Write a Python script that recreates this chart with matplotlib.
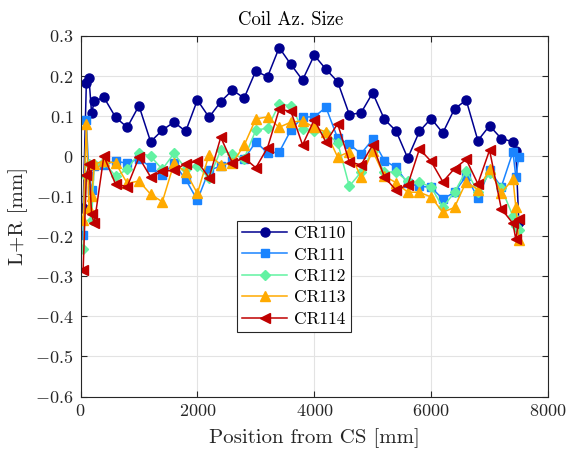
import matplotlib
matplotlib.use("Agg")
import matplotlib.pyplot as plt
from matplotlib.ticker import FuncFormatter

plt.rcParams['font.family'] = 'serif'
plt.rcParams['font.serif'] = ['cmr10']
plt.rcParams['mathtext.fontset'] = 'cm'
plt.rcParams['axes.formatter.use_mathtext'] = True
plt.rcParams['axes.unicode_minus'] = False

position = [45, 100, 145, 190, 235, 400, 600, 800, 1000, 1200, 1400, 1600, 1800,
            2000, 2200, 2400, 2600, 2800, 3000, 3200, 3400, 3600, 3800, 4000,
            4200, 4400, 4600, 4800, 5000, 5200, 5400, 5600, 5800, 6000, 6200,
            6400, 6600, 6800, 7000, 7200, 7400, 7450, 7500]

cr110 = [-0.130, 0.182, 0.195, 0.107, 0.137, 0.147, 0.097, 0.072, 0.126, 0.036,
         0.065, 0.085, 0.062, 0.140, 0.097, 0.136, 0.165, 0.145, 0.213, 0.198,
         0.271, 0.229, 0.190, 0.252, 0.217, 0.186, 0.104, 0.108, 0.158, 0.092,
         0.063, -0.005, 0.062, 0.094, 0.058, 0.118, 0.140, 0.039, 0.076, 0.044,
         0.036, 0.012, -0.164]
cr111 = [-0.196, 0.090, -0.050, -0.085, -0.025, -0.022, -0.012, -0.018, -0.006, -0.027,
         -0.047, -0.018, -0.058, -0.110, -0.035, -0.025, -0.012, -0.008, 0.036, 0.008,
         0.010, 0.065, 0.098, 0.098, 0.122, 0.045, 0.030, 0.006, 0.042, -0.011,
         -0.028, -0.068, -0.075, -0.078, -0.107, -0.090, -0.050, -0.104, -0.035, -0.077,
         0.011, -0.053, -0.002]
cr112 = [-0.231, -0.050, -0.020, -0.160, -0.020, -0.015, -0.050, -0.033, 0.008, 0.000,
         -0.033, 0.007, -0.031, -0.025, -0.055, 0.015, 0.005, -0.006, 0.065, 0.070,
         0.130, 0.126, 0.068, 0.063, 0.057, 0.034, -0.075, -0.040, 0.014, -0.040,
         -0.039, -0.063, -0.065, -0.077, -0.128, -0.090, -0.036, -0.089, -0.042, -0.079,
         -0.150, -0.175, -0.185]
cr113 = [-0.160, 0.080, -0.130, -0.100, -0.020, -0.012, -0.017, -0.068, -0.062, -0.095,
         -0.114, -0.018, -0.039, -0.093, 0.004, -0.022, -0.017, 0.027, 0.093, 0.098,
         0.072, 0.085, 0.088, 0.072, 0.060, -0.002, 0.011, -0.052, 0.013, -0.050,
         -0.066, -0.090, -0.090, -0.102, -0.140, -0.128, -0.064, -0.084, -0.033, -0.092,
         -0.057, -0.127, -0.210]
cr114 = [-0.285, -0.048, -0.020, -0.145, -0.168, 0.000, -0.070, -0.076, -0.003, -0.052,
         -0.038, -0.035, -0.019, -0.013, -0.054, 0.047, -0.017, -0.004, -0.029, 0.021,
         0.117, 0.112, 0.028, 0.091, 0.035, 0.081, -0.014, -0.022, 0.028, -0.052,
         -0.085, -0.072, 0.018, -0.013, -0.064, -0.031, -0.008, -0.069, 0.015, -0.131,
         -0.168, -0.208, -0.158]

names = ['CR110', 'CR111', 'CR112', 'CR113', 'CR114']
series = [cr110, cr111, cr112, cr113, cr114]
colors = ['#000090', '#1A84FF', '#62F2A2', '#FFAA00', '#C00000']
markers = ['o', 's', 'D', '^', '<']
msizes = [6.5, 6, 5.5, 7, 7]

fig = plt.figure(figsize=(5.71, 4.54), dpi=100)
ax = fig.add_axes([80.5 / 571, 1 - 396.5 / 454, 467.5 / 571, 360.5 / 454])

for name, ys, c, m, ms in zip(names, series, colors, markers, msizes):
    ax.plot(position, ys, color=c, marker=m, markersize=ms, linewidth=1.1,
            markerfacecolor=c, markeredgecolor=c, label=name)

ax.set_xlim(0, 8000)
ax.set_ylim(-0.6, 0.3)
ax.set_xticks([0, 2000, 4000, 6000, 8000])
ax.set_yticks([-0.6, -0.5, -0.4, -0.3, -0.2, -0.1, 0, 0.1, 0.2, 0.3])

def yfmt(v, _):
    v = round(v, 3)
    if abs(v) < 1e-9:
        return '$0$'
    return '$%g$' % v

ax.yaxis.set_major_formatter(FuncFormatter(yfmt))
ax.xaxis.set_major_formatter(FuncFormatter(lambda v, _: '$%d$' % round(v)))

ax.grid(True, color='#E3E3E3', linewidth=0.8)
ax.set_axisbelow(True)
ax.tick_params(direction='in', top=True, right=True, length=4, width=0.8,
               labelsize=13, colors='#262626', labelcolor='#262626', pad=5)
for s in ax.spines.values():
    s.set_color('#262626')
    s.set_linewidth(0.8)

ax.set_title('Coil Az. Size', fontsize=13.5, color='#000000', pad=8, x=0.45)
ax.set_xlabel('Position from CS [mm]', fontsize=15, color='#262626', labelpad=6)
ax.set_ylabel('L+R [mm]', fontsize=15, color='#262626', labelpad=5)

leg = ax.legend(loc='lower left', bbox_to_anchor=(0.335, 0.179), fontsize=12.5,
                frameon=True, fancybox=False, edgecolor='#262626', framealpha=1,
                handlelength=2.6, borderpad=0.3, labelspacing=0.35,
                handletextpad=0.4, borderaxespad=0)
leg.get_frame().set_linewidth(0.8)

fig.savefig('out.png', dpi=100)
